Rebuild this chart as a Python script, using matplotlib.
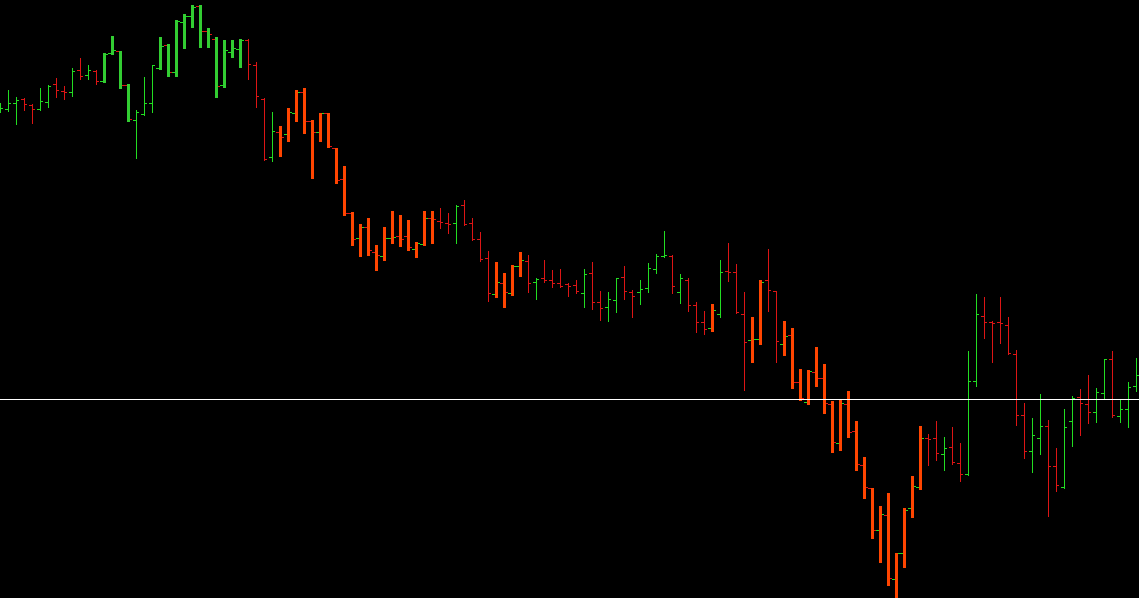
import numpy as np
import matplotlib
matplotlib.use("Agg")
import matplotlib.pyplot as plt

# OHLC values (price units, higher = up), bars in time order
opens = [488, 488.7, 494.7, 499, 492.7, 489.3, 495.7, 513.7, 506.7, 505.7, 527.7, 522.7, 527, 516.7, 544.7, 546.7, 513.3, 477.7, 484.3, 494.7,
         530.3, 553, 525.7, 575.7, 581.7, 592, 566.7, 558.7, 512.7, 545.7, 548.7, 557.7, 532.7, 499, 440.7, 465.7, 463.7, 484.7, 505.7, 476.7,
         465.7, 484.7, 449.7, 418.7, 385.3, 359.7, 370.7, 345.7, 341.7, 360.3, 361.7, 361.7, 348.7, 354, 379.7, 376.7, 374.7, 374.7, 392.7, 374.7,
         358.7, 339.7, 303.7, 314.7, 304.7, 331.7, 336.7, 315.7, 319.7, 317.7, 314.7, 313.7, 312.7, 304.7, 324.7, 295.7, 290.7, 297.7, 320.7, 305.7,
         305.7, 309.7, 328.7, 342.3, 341.7, 305.7, 317.7, 292.7, 275.7, 269.7, 283.7, 326.7, 325.7, 283.7, 257.7, 259.3, 317.7, 306.7, 253.7, 262.7,
         215.7, 196.3, 225.7, 219.7, 193.7, 154.7, 193.7, 166.7, 132.7, 109.7, 67.7, 82.7, 18.7, 44.7, 89.7, 110.7, 160, 159.7, 143.7, 150.7,
         134.7, 123.7, 216.7, 281.7, 275.7, 275.7, 272.7, 244, 182.7, 146.7, 159.7, 171.7, 131.7, 110.7, 176.7, 200.7, 193.7, 185.7, 204.7, 238.7,
         181.7, 188.7, 211.7]
highs = [495, 508, 501, 500, 493.7, 510, 513, 520, 512, 530, 540, 533, 528, 545, 562, 547, 514, 488, 521, 533,
         561, 554, 578, 584, 593, 593, 570, 561, 558, 558, 559, 559, 536, 499.7, 486, 472, 490, 508, 510, 478,
         485, 485, 450, 432, 386, 374, 380, 353, 371, 387, 383, 378, 356, 387, 387, 390, 385, 393, 398, 380,
         366, 347, 336, 325, 333, 346, 343, 320, 338, 328, 329, 315, 318, 329, 336, 307, 306, 320, 332, 308,
         318, 335, 344, 367, 343, 324, 320, 296, 287, 294, 338, 355, 334, 306, 281, 318, 349, 307, 277, 270,
         229, 228, 251, 234, 197, 199, 207, 177, 141, 110, 92, 105, 45, 90, 122, 172, 164, 177, 161, 171,
         155, 247, 304, 301, 277, 301, 281, 248, 195, 180, 204, 178, 150, 189, 202, 209, 223, 210, 239, 247,
         199, 216, 240]
lows = [486, 487.3, 474, 488, 475, 488, 491.3, 501, 499, 502, 519, 519, 514.3, 516, 544, 510, 477.3, 440.3, 483, 486,
        529.3, 522, 522, 550, 571, 551, 551, 501, 511, 541, 531, 519, 491, 438, 437.3, 442, 457, 477, 465, 420,
        457, 451, 415, 383, 353, 342, 343, 328, 338, 355, 352, 348, 341, 353, 355, 370, 365, 355, 373, 358,
        337, 297, 301, 291, 303, 322, 306, 299, 316, 311, 311, 302, 305, 291, 289, 278, 277, 286, 299, 281,
        294, 306, 325, 341, 305, 295, 287, 266, 264, 267, 281, 317, 285, 208, 236, 254, 287, 236, 243, 210,
        198, 194, 212, 185, 146, 148, 161, 128, 100, 60, 36, 13, -4, 31, 81, 109, 133, 138, 128, 134,
        117, 123, 212, 260, 236, 255, 244, 173, 140, 126, 144, 82, 107, 110, 152, 163, 175, 176, 199, 181,
        176, 171, 207]
closes = [489.7, 494.7, 497.7, 493.7, 488.7, 496.7, 511.7, 507.7, 505.7, 526.7, 521.7, 527.7, 516.7, 543.7, 547.7, 512.7, 478.7, 485.7, 494.7, 532.7,
          551.7, 525.7, 577.3, 581.7, 590.7, 566.7, 563.7, 511.7, 547.7, 549.7, 558, 533.7, 501.7, 439.3, 466.7, 460.7, 485.7, 505.7, 476.7, 465.7,
          484.7, 452, 418.3, 384.7, 358.7, 370.7, 347.7, 342.7, 359.7, 361, 358.7, 350.7, 355, 379.7, 378.7, 375.7, 373.7, 391.7, 373.7, 358.7,
          338.7, 304.7, 315.7, 305.7, 331.7, 337.7, 314.7, 318.7, 317.7, 314.7, 312, 311.7, 306.7, 323.7, 295.7, 289.7, 298.7, 319.7, 306.7, 301.7,
          308.7, 329.7, 341.7, 343, 311.7, 319.7, 292.7, 275.7, 268.7, 287.7, 325.7, 325.7, 286.3, 255.7, 258.7, 315.7, 307.7, 256.7, 261.7, 215.7,
          200, 226.7, 219.7, 194.7, 155.7, 194.7, 165.7, 133.7, 110.7, 67.7, 83.7, 19.7, 44.7, 88, 111.7, 159.7, 159.3, 144.7, 149.7, 135.7,
          123.7, 216.7, 283.7, 275.7, 274.7, 274.7, 245, 182.7, 146.7, 162.7, 171.7, 131.7, 112.7, 170.7, 199.7, 194.7, 185.7, 205.7, 238.7, 182.7,
          188.7, 210.7, 222.7]

# trend highlight runs: n = normal bar, g = bullish highlight, o = bearish highlight
trend_runs = [("n", 13), ("g", 4), ("n", 3), ("g", 11), ("n", 4), ("o", 20), ("n", 7), ("o", 4),
              ("n", 23), ("o", 1), ("n", 4), ("o", 2), ("n", 2), ("o", 18), ("n", 27)]
level = 198.6  # horizontal price line

trend = "".join(k * c for k, c in trend_runs)

o = np.array(opens); h = np.array(highs); l = np.array(lows); c = np.array(closes)
n = len(o)
x = np.arange(n)

UP = "#22dd22"
DOWN = "#dd1515"
THICK = {"g": "#32cd32", "o": "#ff4500"}

W, H = 1139, 598
fig = plt.figure(figsize=(W / 100, H / 100), dpi=100, facecolor="black")
ax = fig.add_axes([0, 0, 1, 1], facecolor="black")
ax.set_axis_off()

ppu = 8.0  # pixels per bar step
x0 = 1 - 7.5 / ppu
ax.set_xlim(x0, x0 + W / ppu)
ax.set_ylim(0, H)

px = 0.72  # one pixel in points
up = c >= o
tick_cols = np.where(up, UP, DOWN)

for i in range(n):
    kind = trend[i]
    if kind == "n":
        col = tick_cols[i]
        hw = 0.5
        lw = px
    else:
        col = THICK[kind]
        hw = 1.5
        lw = 3 * px
    tl = (hw + 2) / ppu
    ax.hlines(o[i], x[i] - tl, x[i], colors=tick_cols[i], linewidth=px, antialiased=False, zorder=2)
    ax.hlines(c[i], x[i], x[i] + tl, colors=tick_cols[i], linewidth=px, antialiased=False, zorder=2)
    ax.vlines(x[i], l[i], h[i], colors=col, linewidth=lw, antialiased=False, zorder=3)

ax.axhline(level, color="white", linewidth=px, antialiased=False, zorder=4)

fig.savefig("out.png", dpi=100, facecolor="black")
